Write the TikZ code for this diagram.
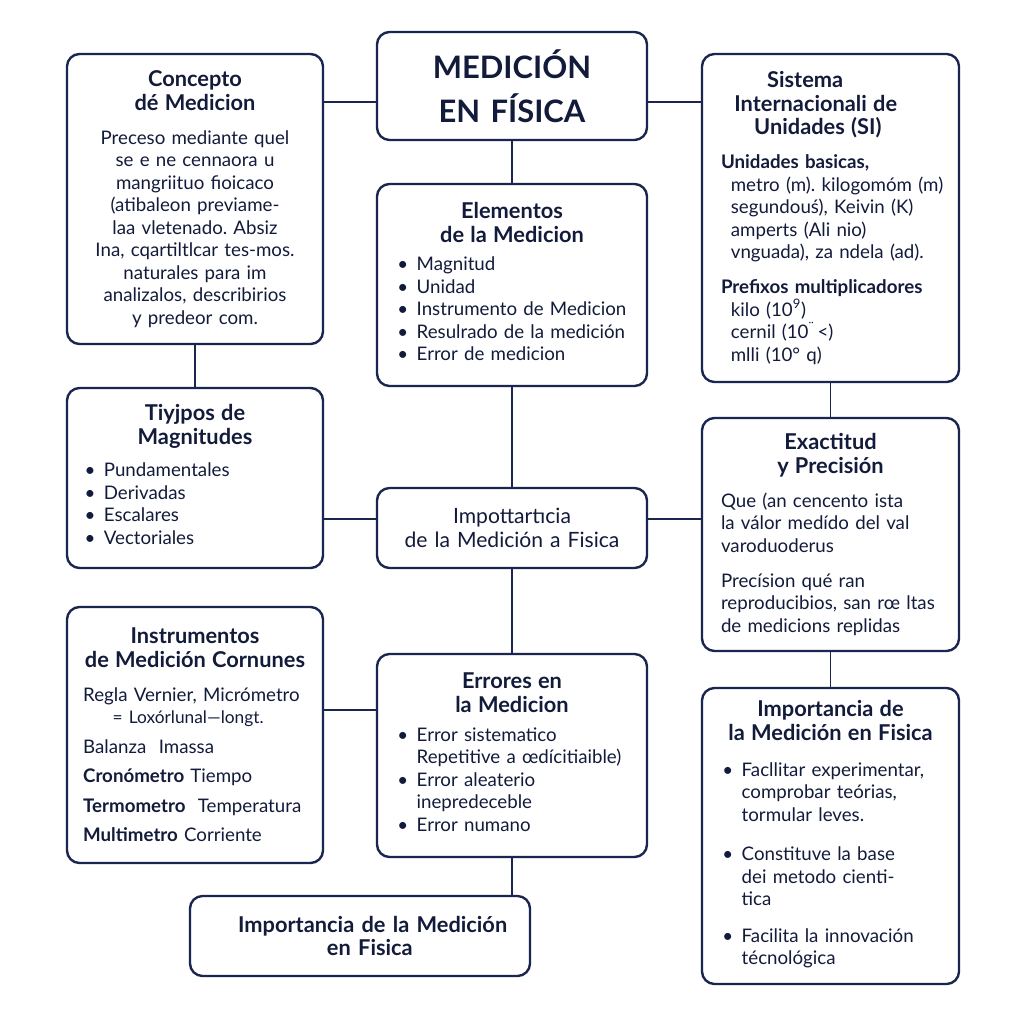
\documentclass[tikz,border=0pt]{standalone}
\usepackage{fontspec}
\setmainfont{Lato}
\definecolor{navy}{HTML}{1B2650}
\definecolor{ink}{HTML}{131B3B}
\newcommand{\bodyfont}{\fontsize{13.3}{16}\selectfont}
\newcommand{\headfont}{\fontsize{15.5}{16.8}\selectfont\bfseries}
\newcommand{\heading}[1]{{\centering\headfont #1\par}\vspace{8pt}}
\newcommand{\bul}{\textbullet}
\frenchspacing

\begin{document}
\begin{tikzpicture}[x=0.025cm,y=-0.025cm,
  card/.style={draw=navy,fill=white,rounded corners=9pt,line width=1.7pt,
    text=ink,inner xsep=0.3cm,inner ysep=0pt,font=\bodyfont},
  leftcard/.style={card,text width=5.8cm},
  midcard/.style={card,text width=6.15cm},
  rightcard/.style={card,text width=5.825cm},
  link/.style={draw=navy,line width=1.4pt}
]
\useasboundingbox[fill=white] (0,0) rectangle (1024,1024);

% middle column
\node[midcard,minimum height=2.7cm,align=center,
  font=\fontsize{22}{31}\selectfont\bfseries] (title) at (512,86)
  {MEDICIÓN\\EN FÍSICA};
\node[midcard,minimum height=5.05cm] (elements) at (512,285)
  {\heading{Elementos\\de la Medicion}
   \hspace*{6pt}\begin{tabular}{@{}l@{\hspace{6pt}}l@{}}
   \bul & Magnitud\\
   \bul & Unidad\\
   \bul & Instrumento de Medicion\\
   \bul & Resulrado de la medición\\
   \bul & Error de medicion
   \end{tabular}};
\node[midcard,minimum height=2cm,align=center,
  font=\fontsize{15}{17}\selectfont] (importance) at (512,528)
  {Impottartıcia\\de la Medición a Fisica};
\node[midcard,minimum height=5.075cm] (errors) at (512,755.5)
  {\heading{Errores en\\la Medicion}
   \hspace*{6pt}\begin{tabular}{@{}l@{\hspace{6pt}}l@{}}
   \bul & Error sistematico\\
        & Repetitive a œdícitiaible)\\
   \bul & Error aleaterio\\
        & inepredeceble\\
   \bul & Error numano
   \end{tabular}};
\node[card,text width=7.9cm,minimum height=2cm,align=center,
  font=\headfont] (summary) at (360,936)
  {\hspace*{18pt}Importancia de la Medición\\\hspace*{14pt}en Fisica};

% left column
\node[leftcard,minimum height=7.25cm] (concept) at (195,199)
  {\heading{Concepto\\dé Medicion}
   {\centering Preceso mediante quel\\
    se e ne cennaora u\\
    mangriituo fioicaco\\
    (atibaleon previame-\\
    laa vletenado. Absiz\\
    Ina, cqartiltlcar tes-mos.\\
    naturales para im\\
    analizalos, describirios\\
    y predeor com.\par}};
\node[leftcard,minimum height=4.5cm] (types) at (195,478)
  {\heading{Tiyjpos de\\Magnitudes}
   \hspace*{4pt}\begin{tabular}{@{}l@{\hspace{6pt}}l@{}}
   \bul & Pundamentales\\
   \bul & Derivadas\\
   \bul & Escalares\\
   \bul & Vectoriales
   \end{tabular}};
\node[leftcard,minimum height=6.4cm] (tools) at (195,735)
  {\heading{Instrumentos\\de Medición Cornunes}
   {\raggedright\hspace*{3pt}Regla Vernier, Micrómetro\\
    \hspace*{24pt}{\fontsize{12.3}{14}\selectfont = Loxórlunal—longt.}\\[5pt]
    \hspace*{3pt}Balanza\ \ Imassa\\[5pt]
    \hspace*{3pt}\textbf{Cronómetro} Tiempo\\[5pt]
    \hspace*{3pt}\textbf{Termometro}\ \ Temperatura\\[5pt]
    \hspace*{3pt}\textbf{Multimetro} Corriente\par}};

% right column
\node[rightcard,minimum height=8.2cm] (si) at (830.5,218)
  {{\centering\headfont \hspace*{-36pt}Sistema\\\hspace*{-21pt}Internacionali de\\\hspace*{-18pt}Unidades (SI)\par}\vspace{8pt}
   {\raggedright\hspace*{5pt}\textbf{Unidades basicas,}\\
    \hspace*{12pt}metro (m). kilogomóm (m)\\
    \hspace*{12pt}segundouś), Keivin (K)\\
    \hspace*{12pt}amperts (Ali nio)\\
    \hspace*{12pt}vnguada), za ndela (ad).\par}
   \vspace{9pt}
   {\raggedright\hspace*{5pt}\textbf{Prefixos multiplicadores}\\
    \hspace*{12pt}kilo (10\textsuperscript{9})\\
    \hspace*{12pt}cernil (10\textsuperscript{¨}\,<)\\
    \hspace*{12pt}mlli (10° q)\par}};
\node[rightcard,minimum height=5.825cm] (accuracy) at (830.5,534.5)
  {\heading{Exactitud\\y Precisión}
   {\raggedright\hspace*{5pt}Que (an cencento ista\\
    \hspace*{5pt}la válor medído del val\\
    \hspace*{5pt}varoduoderus\par}
   \vspace{9pt}
   {\raggedright\hspace*{5pt}Precísion qué ran\\
    \hspace*{5pt}reproducibios, san rœ\ ltas\\
    \hspace*{5pt}de medicions replidas\par}};
\node[rightcard,minimum height=7.4cm] (relevance) at (830.5,836)
  {\heading{Importancia de\\la Medición en Fisica}\vspace{5pt}
   \hspace*{6pt}\begin{tabular}{@{}l@{\hspace{6pt}}l@{}}
   \bul & Facllitar experimentar,\\
        & comprobar teórias,\\
        & tormular leves.\\[12pt]
   \bul & Constituve la base\\
        & dei metodo cienti-\\
        & tica\\[10pt]
   \bul & Facilita la innovación\\
        & técnológica
   \end{tabular}};

% connectors
\draw[link] ([yshift=-4mm]title.west) -- ([yshift=-4mm]title.west -| concept.east);
\draw[link] ([yshift=-4mm]title.east) -- ([yshift=-4mm]title.east -| si.west);
\draw[link] (title.south) -- (elements.north);
\draw[link] (concept.south) -- (types.north);
\draw[link] (elements.south) -- (importance.north);
\draw[link] ([yshift=2.25mm]importance.west) -- ([yshift=2.25mm]importance.west -| types.east);
\draw[link] ([yshift=2.25mm]importance.east) -- ([yshift=2.25mm]importance.east -| accuracy.west);
\draw[link] (si.south) -- (accuracy.north);
\draw[link] (importance.south) -- (errors.north);
\draw[link] ([yshift=11.4mm]errors.west) -- ([yshift=11.4mm]errors.west -| tools.east);
\draw[link] (accuracy.south) -- (relevance.north);
\draw[link] (errors.south) -- (errors.south |- summary.north);
\end{tikzpicture}
\end{document}
